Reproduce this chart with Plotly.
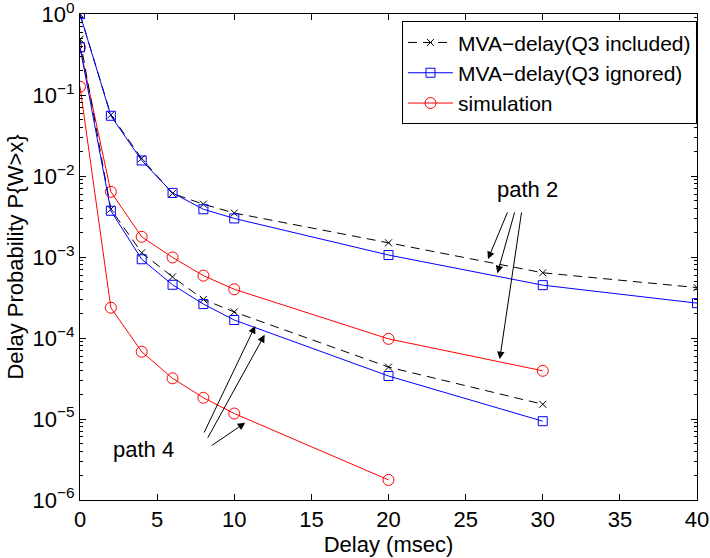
import plotly.graph_objects as go

# ---- data ----
x_mva_p2 = [0, 2, 4, 6, 8, 10, 20, 30, 40]
mva_inc_p2 = [1.0, 0.057, 0.0165, 0.0061, 0.0045, 0.0035, 0.0015, 0.00064, 0.00042]
mva_ign_p2 = [1.0, 0.0556, 0.0156, 0.0062, 0.0039, 0.0030, 0.00106, 0.00045, 0.00027]

x_sim_p2 = [0, 2, 4, 6, 8, 10, 20, 30]
sim_p2 = [0.39, 0.0064, 0.00178, 0.00099, 0.00059, 0.0004, 0.0000977, 0.0000394]

x_mva_p4 = [0, 2, 4, 6, 8, 10, 20, 30]
mva_inc_p4 = [0.49, 0.0039, 0.00113, 0.00057, 0.0003, 0.00021, 0.0000438, 0.0000152]
mva_ign_p4 = [0.39, 0.00373, 0.00094, 0.000455, 0.000263, 0.000167, 0.000034, 0.0000094]

x_sim_p4 = [0, 2, 4, 6, 8, 10, 20]
sim_p4 = [0.127, 0.000237, 0.0000678, 0.0000318, 0.0000183, 0.0000117, 0.00000177]

series_names = ["MVA\u2212delay(Q3 included)", "MVA\u2212delay(Q3 ignored)", "simulation"]
x_ticks = [0, 5, 10, 15, 20, 25, 30, 35, 40]
y_tick_exps = [0, -1, -2, -3, -4, -5, -6]

# annotation arrows: (head_x, head_logy, tail_x, tail_logy)
path2_label = ("path 2", 29.0, -2.16)
path2_arrows = [(26.45, -3.025, 27.75, -2.43), (27.06, -3.20, 28.2, -2.43), (27.21, -4.26, 28.64, -2.43)]
path4_label = ("path 4", 4.1, -5.38)
path4_arrows = [(11.36, -3.85, 8.0, -5.185), (11.97, -3.96, 8.23, -5.25), (10.71, -5.046, 8.44, -5.34)]

FONT = "Liberation Sans, Arial, sans-serif"
FS = 22
fig = go.Figure()

styles = {
    0: dict(line=dict(color="black", width=1, dash="9px,6px"),
            marker=dict(symbol="x-thin-open", size=7, color="black", line=dict(color="black", width=1))),
    1: dict(line=dict(color="#0000ff", width=1),
            marker=dict(symbol="square-open", size=9, color="#0000ff", line=dict(color="#0000ff", width=1))),
    2: dict(line=dict(color="#ff0000", width=1),
            marker=dict(symbol="circle-open", size=11, color="#ff0000", line=dict(color="#ff0000", width=1))),
}

traces = [
    (0, x_mva_p2, mva_inc_p2, True),
    (1, x_mva_p2, mva_ign_p2, True),
    (2, x_sim_p2, sim_p2, True),
    (0, x_mva_p4, mva_inc_p4, False),
    (1, x_mva_p4, mva_ign_p4, False),
    (2, x_sim_p4, sim_p4, False),
]
for idx, xs, ys, show in traces:
    fig.add_trace(go.Scatter(x=xs, y=ys, mode="lines+markers", name=series_names[idx],
                             legendgroup=str(idx), showlegend=show, **styles[idx]))

annots = []
for lab in (path2_label, path4_label):
    annots.append(dict(x=lab[1], y=lab[2], text=lab[0], showarrow=False, xref="x", yref="y",
                       font=dict(size=FS, color="black", family=FONT)))
for hx, hy, tx, ty in path2_arrows + path4_arrows:
    annots.append(dict(x=hx, y=hy, ax=tx, ay=ty, xref="x", yref="y", axref="x", ayref="y",
                       text="", showarrow=True, arrowhead=2, arrowsize=1.5, arrowwidth=1,
                       arrowcolor="black", standoff=0, startstandoff=0))

fig.update_layout(
    width=710, height=558,
    margin=dict(l=80, r=13, t=14, b=58, autoexpand=False),
    paper_bgcolor="white", plot_bgcolor="white",
    font=dict(family=FONT, size=FS, color="black"),
    annotations=annots,
    legend=dict(x=1, y=0.985, xanchor="right", yanchor="top", bgcolor="white",
                bordercolor="black", borderwidth=1, font=dict(size=21),
                tracegroupgap=0, itemwidth=45),
)
fig.update_xaxes(range=[0, 40], tickvals=x_ticks, ticktext=[str(v) for v in x_ticks],
                 automargin=False,
                 showgrid=False, zeroline=False, showline=True, linecolor="black", linewidth=1,
                 mirror="ticks", ticks="inside", ticklen=6, tickcolor="black",
                 title=dict(text="Delay (msec)", standoff=0, font=dict(size=FS)),
                 tickfont=dict(size=FS))
fig.update_yaxes(type="log", range=[-6, 0.002], tickmode="array",
                 tickvals=[10.0 ** e for e in y_tick_exps],
                 ticktext=["10<sup>%s</sup>" % (str(e).replace("-", "\u2212")) for e in y_tick_exps],
                 ticklabeloverflow="allow", automargin=False,
                 showgrid=False, zeroline=False, showline=True, linecolor="black", linewidth=1,
                 mirror="allticks", ticks="inside", ticklen=6, tickcolor="black",
                 minor=dict(ticks="inside", ticklen=3, tickcolor="black", dtick="D1", showgrid=False),
                 title=dict(text="Delay Probability P{W>x}", standoff=2, font=dict(size=FS)),
                 tickfont=dict(size=FS))

fig.write_html("out.html")
